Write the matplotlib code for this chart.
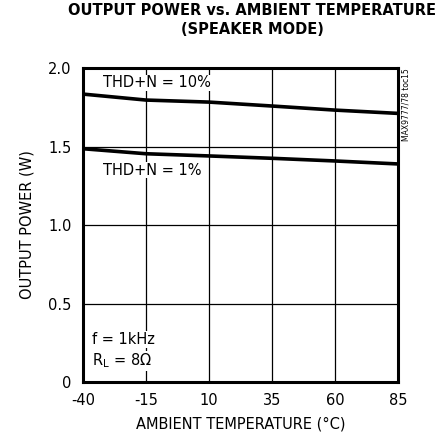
import matplotlib.pyplot as plt

plt.rcParams["font.family"] = ["DejaVu Sans"]

temps = [-40, -15, 10, 35, 60, 85]
thd10 = [1.834, 1.796, 1.783, 1.758, 1.732, 1.711]
thd1 = [1.486, 1.454, 1.440, 1.425, 1.408, 1.389]
xticks = [-40, -15, 10, 35, 60, 85]
xtick_labels = ["-40", "-15", "10", "35", "60", "85"]
yticks = [0, 0.5, 1.0, 1.5, 2.0]
ytick_labels = ["0", "0.5", "1.0", "1.5", "2.0"]

fig = plt.figure(figsize=(4.39, 4.42), dpi=100)
ax = fig.add_axes([0.189, 0.1357, 0.7176, 0.7104])

ax.plot(temps, thd10, color="black", lw=2.6, solid_capstyle="butt", zorder=3)
ax.plot(temps, thd1, color="black", lw=2.6, solid_capstyle="butt", zorder=3)

ax.set_xlim(-40, 85)
ax.set_ylim(0, 2.0)
ax.set_xticks(xticks)
ax.set_xticklabels(xtick_labels)
ax.set_yticks(yticks)
ax.set_yticklabels(ytick_labels)
ax.tick_params(length=0, labelsize=10.5, pad=8)
ax.grid(True, color="black", lw=0.9)
for s in ax.spines.values():
    s.set_linewidth(2.2)

box = dict(facecolor="white", edgecolor="none", pad=0.5)
ax.text(-32, 1.905, "THD+N = 10%", fontsize=10.5, va="center", bbox=box, zorder=4)
ax.text(-32, 1.35, "THD+N = 1%", fontsize=10.5, va="center", bbox=box, zorder=4)
ax.text(-36.5, 0.27, "f = 1kHz", fontsize=10.5, va="center", bbox=box, zorder=4)
ax.text(-36.5, 0.135, "R$_\\mathregular{L}$ = 8\u03a9", fontsize=10.5, va="center", bbox=box, zorder=4)

ax.set_xlabel("AMBIENT TEMPERATURE (\u00b0C)", fontsize=10.5, labelpad=6)
ax.set_ylabel("OUTPUT POWER (W)", fontsize=10.5, labelpad=10)

fig.text(0.575, 0.955, "OUTPUT POWER vs. AMBIENT TEMPERATURE\n(SPEAKER MODE)",
         ha="center", va="center", fontsize=10.5, fontweight="bold", linespacing=1.3)
fig.text(0.925, 0.845, "MAX9777/78 toc15", rotation=90, ha="center", va="top", fontsize=5.5)

fig.savefig("out.png", dpi=100)
